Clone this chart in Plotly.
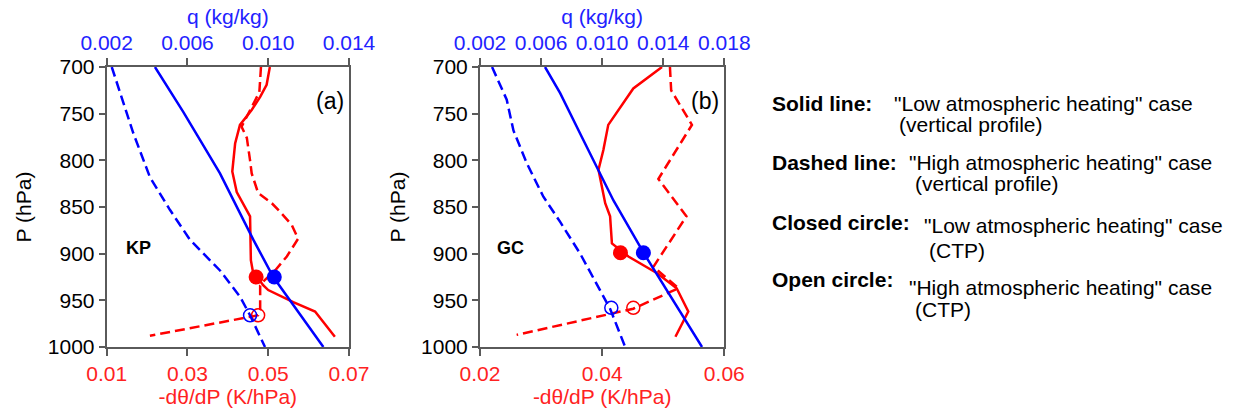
import plotly.graph_objects as go

# ---------------- data ----------------
# Panel (a) KP : -dtheta/dP (bottom axis, red)
a_dth_low_p = [700, 719, 732, 746, 762, 782, 812, 834, 860, 907, 919, 934, 939, 952, 962, 989]
a_dth_low_v = [0.0504, 0.0496, 0.0480, 0.0459, 0.0430, 0.0418, 0.0411, 0.0422, 0.0455, 0.0457, 0.0462,
               0.0488, 0.0500, 0.0562, 0.0616, 0.0665]
a_dth_high_p = [700, 727, 764, 776, 800, 814, 835, 846, 855, 869, 884, 903, 918, 928, 934, 960, 966, 988]
a_dth_high_v = [0.0482, 0.0478, 0.0434, 0.0447, 0.0455, 0.0459, 0.0475, 0.0509, 0.0529, 0.0558, 0.0574,
                0.0546, 0.0517, 0.0492, 0.0480, 0.0480, 0.0475, 0.0207]
# Panel (a) KP : q (top axis, blue)
a_q_low_p = [700, 748, 778, 814, 885, 925, 1000]
a_q_low_v = [0.00439, 0.00579, 0.00662, 0.00761, 0.00926, 0.01025, 0.01273]
a_q_high_p = [700, 739, 771, 818, 853, 885, 918, 946, 966, 1000]
a_q_high_v = [0.00225, 0.00282, 0.00332, 0.00414, 0.00513, 0.00612, 0.00761, 0.00860, 0.00910, 0.00984]
# Panel (a) CTP markers
a_ctp_low_p = [925]
a_ctp_low_dth = [0.0470]
a_ctp_low_q = [0.0103]
a_ctp_high_p = [966]
a_ctp_high_dth = [0.0475]
a_ctp_high_q = [0.0091]

# Panel (b) GC : -dtheta/dP
b_dth_low_p = [700, 723, 762, 789, 810, 846, 860, 889, 903, 921, 937, 962, 989]
b_dth_low_v = [0.0498, 0.0451, 0.0410, 0.0402, 0.0394, 0.0405, 0.0413, 0.0416, 0.0443, 0.0490, 0.0522,
               0.0541, 0.0520]
b_dth_high_p = [700, 725, 762, 820, 860, 914, 937, 959, 987]
b_dth_high_v = [0.0511, 0.0513, 0.0547, 0.0492, 0.0538, 0.0484, 0.0525, 0.0451, 0.0260]
# Panel (b) GC : q
b_q_low_p = [700, 728, 775, 843, 899, 1000]
b_q_low_v = [0.00626, 0.00725, 0.00867, 0.01074, 0.01271, 0.01654]
b_q_high_p = [700, 735, 768, 803, 839, 866, 900, 939, 959, 1000]
b_q_high_v = [0.00279, 0.00375, 0.00419, 0.00506, 0.00615, 0.00725, 0.00856, 0.00987, 0.01052, 0.01151]
# Panel (b) CTP markers
b_ctp_low_p = [899]
b_ctp_low_dth = [0.0430]
b_ctp_low_q = [0.0127]
b_ctp_high_p = [958]
b_ctp_high_dth = [0.0451]
b_ctp_high_q = [0.0106]

p_ticks = [700, 750, 800, 850, 900, 950, 1000]
a_dth_ticks = [0.01, 0.03, 0.05, 0.07]
a_q_ticks = [0.002, 0.006, 0.010, 0.014]
b_dth_ticks = [0.02, 0.04, 0.06]
b_q_ticks = [0.002, 0.006, 0.010, 0.014, 0.018]

legend_rows = [
    ("Solid line:", '"Low atmospheric heating" case', "(vertical profile)"),
    ("Dashed line:", '"High atmospheric heating" case', "(vertical profile)"),
    ("Closed circle:", '"Low atmospheric heating" case', "(CTP)"),
    ("Open circle:", '"High atmospheric heating" case', "(CTP)"),
]

# ---------------- styling ----------------
RED = "#ff0000"
BLUE = "#0000ff"
RED_T = "#ff2222"
BLUE_T = "#2222ff"
FONT = "Liberation Sans, Arial, sans-serif"
FS = 21
AX = "#5a5a5a"
DASH = "10px,5px"
LW = 2.5
W, H = 1239, 415

fig = go.Figure()


def add_panel(xb, xt, ya, dth_low, dth_high, q_low, q_high, ctp_lo, ctp_hi):
    fig.add_trace(go.Scatter(x=dth_low[1], y=dth_low[0], mode="lines", xaxis=xb, yaxis=ya,
                             line=dict(color=RED, width=LW)))
    fig.add_trace(go.Scatter(x=dth_high[1], y=dth_high[0], mode="lines", xaxis=xb, yaxis=ya,
                             line=dict(color=RED, width=LW, dash=DASH)))
    fig.add_trace(go.Scatter(x=q_low[1], y=q_low[0], mode="lines", xaxis=xt, yaxis=ya,
                             line=dict(color=BLUE, width=LW)))
    fig.add_trace(go.Scatter(x=q_high[1], y=q_high[0], mode="lines", xaxis=xt, yaxis=ya,
                             line=dict(color=BLUE, width=LW, dash=DASH)))
    # closed circles
    fig.add_trace(go.Scatter(x=ctp_lo[1], y=ctp_lo[0], mode="markers", xaxis=xb, yaxis=ya,
                             marker=dict(color=RED, size=15, symbol="circle")))
    fig.add_trace(go.Scatter(x=ctp_lo[2], y=ctp_lo[0], mode="markers", xaxis=xt, yaxis=ya,
                             marker=dict(color=BLUE, size=15, symbol="circle")))
    # open circles
    fig.add_trace(go.Scatter(x=ctp_hi[1], y=ctp_hi[0], mode="markers", xaxis=xb, yaxis=ya,
                             marker=dict(color=RED, size=13, symbol="circle-open", line=dict(width=1.5))))
    fig.add_trace(go.Scatter(x=ctp_hi[2], y=ctp_hi[0], mode="markers", xaxis=xt, yaxis=ya,
                             marker=dict(color=BLUE, size=13, symbol="circle-open", line=dict(width=1.5))))


add_panel("x", "x2", "y",
          (a_dth_low_p, a_dth_low_v), (a_dth_high_p, a_dth_high_v),
          (a_q_low_p, a_q_low_v), (a_q_high_p, a_q_high_v),
          (a_ctp_low_p, a_ctp_low_dth, a_ctp_low_q), (a_ctp_high_p, a_ctp_high_dth, a_ctp_high_q))
add_panel("x3", "x4", "y2",
          (b_dth_low_p, b_dth_low_v), (b_dth_high_p, b_dth_high_v),
          (b_q_low_p, b_q_low_v), (b_q_high_p, b_q_high_v),
          (b_ctp_low_p, b_ctp_low_dth, b_ctp_low_q), (b_ctp_high_p, b_ctp_high_dth, b_ctp_high_q))

y_dom = [(H - 347) / H, (H - 67) / H]
a_dom = [106.7 / W, 349.0 / W]
b_dom = [480.0 / W, 724.3 / W]

COMMON = dict(showline=True, linecolor=AX, linewidth=2, ticks="outside", tickwidth=2, tickcolor=AX,
              showgrid=False, zeroline=False, automargin=False)


def xb_axis(dom, rng, ticks, anchor):
    return dict(domain=dom, range=rng, tickvals=ticks, ticktext=[f"{t:g}" for t in ticks],
                anchor=anchor, side="bottom", ticklen=7, **COMMON,
                tickfont=dict(color=RED_T, size=FS, family=FONT),
                title=dict(text="-dθ/dP (K/hPa)", font=dict(color=RED_T, size=FS, family=FONT), standoff=2))


def xt_axis(rng, ticks, over, anchor):
    return dict(range=rng, tickvals=ticks, ticktext=[f"{t:.3f}" for t in ticks],
                overlaying=over, anchor=anchor, side="top", ticklen=7, **COMMON,
                tickfont=dict(color=BLUE_T, size=FS, family=FONT),
                title=dict(text="q (kg/kg)", font=dict(color=BLUE_T, size=FS, family=FONT), standoff=0))


def y_axis(anchor):
    return dict(domain=y_dom, range=[1000, 700], tickvals=p_ticks, anchor=anchor,
                mirror=True, ticklen=6, **COMMON,
                tickfont=dict(color="black", size=FS, family=FONT),
                title=dict(text="P (hPa)", font=dict(color="black", size=FS, family=FONT), standoff=10))


fig.update_layout(
    width=W, height=H, margin=dict(l=0, r=0, t=0, b=0),
    paper_bgcolor="white", plot_bgcolor="white", showlegend=False,
    font=dict(family=FONT, size=FS),
    xaxis=xb_axis(a_dom, [0.01, 0.07], a_dth_ticks, "y"),
    xaxis2=xt_axis([0.002, 0.014], a_q_ticks, "x", "y"),
    yaxis=y_axis("x"),
    xaxis3=xb_axis(b_dom, [0.02, 0.06], b_dth_ticks, "y2"),
    xaxis4=xt_axis([0.002, 0.018], b_q_ticks, "x3", "y2"),
    yaxis2=y_axis("x3"),
)

ann = [
    dict(xref="x domain", yref="y domain", x=0.92, y=0.88, text="(a)", showarrow=False,
         font=dict(size=23, color="black", family=FONT), xanchor="center", yanchor="middle"),
    dict(xref="x3 domain", yref="y2 domain", x=0.92, y=0.88, text="(b)", showarrow=False,
         font=dict(size=23, color="black", family=FONT), xanchor="center", yanchor="middle"),
    dict(xref="x domain", yref="y domain", x=0.13, y=0.355, text="<b>KP</b>", showarrow=False,
         font=dict(size=18, color="black", family=FONT), xanchor="center", yanchor="middle"),
    dict(xref="x3 domain", yref="y2 domain", x=0.125, y=0.355, text="<b>GC</b>", showarrow=False,
         font=dict(size=18, color="black", family=FONT), xanchor="center", yanchor="middle"),
]

# legend explanation text (pixel positions)
rows_pos = [
    (770, 103, 892, 103, 897, 125),
    (770, 162, 907, 162, 913, 184),
    (770, 222, 922, 225, 927, 250),
    (770, 279, 907, 287, 913, 309),
]
for (lab, t1, t2), (lx, ly, t1x, t1y, t2x, t2y) in zip(legend_rows, rows_pos):
    for txt, px, py, bold in ((lab, lx, ly, True), (t1, t1x, t1y, False), (t2, t2x, t2y, False)):
        ann.append(dict(xref="paper", yref="paper", x=px / W, y=1 - py / H,
                        text=f"<b>{txt}</b>" if bold else txt, showarrow=False,
                        xanchor="left", yanchor="middle",
                        font=dict(size=FS, color="black", family=FONT)))

fig.update_layout(annotations=ann)
fig.write_html("out.html")
